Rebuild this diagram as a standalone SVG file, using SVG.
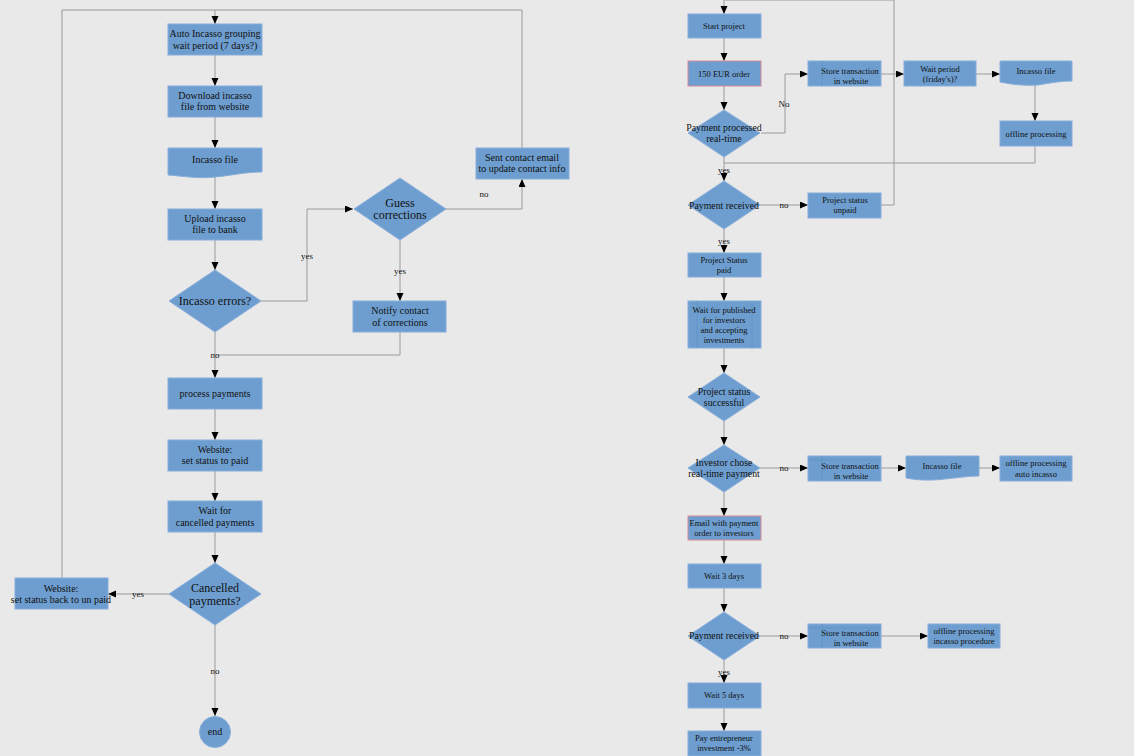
<svg xmlns="http://www.w3.org/2000/svg" width="1134" height="756" viewBox="0 0 1134 756">
<style>
.n{fill:#6d9ecf;stroke:#88aedb;stroke-width:1}
.r{fill:#6d9ecf;stroke:#d88a9a;stroke-width:1}
.t{font-family:"Liberation Serif",serif;font-size:10px;fill:#111;text-anchor:middle}
.s{font-family:"Liberation Serif",serif;font-size:8.5px;fill:#111;text-anchor:middle}
.d{font-family:"Liberation Serif",serif;font-size:12px;fill:#111;text-anchor:middle}
.ds{font-family:"Liberation Serif",serif;font-size:9.8px;fill:#111;text-anchor:middle}
.l{font-family:"Liberation Serif",serif;font-size:9px;fill:#111;text-anchor:middle}
.e{fill:none;stroke:#9a9a9a;stroke-width:1}
.a{marker-end:url(#ah)}
.in{stroke:#5d8ec0;stroke-width:0.6;fill:none}
</style>
<defs>
<marker id="ah" markerUnits="userSpaceOnUse" markerWidth="8" markerHeight="8" refX="8" refY="3.5" orient="auto"><path d="M0,0 L8,3.5 L0,7 z" fill="#000"/></marker>
</defs>
<rect width="1134" height="756" fill="#e9e9e9"/>
<g id="connectors">
<path class="e" d="M62,578 V10 H522 V148"/>
<path class="e a" d="M215,10 V24"/>
<path class="e a" d="M215,55 V86"/>
<path class="e a" d="M215,117 V148"/>
<path class="e a" d="M215,176 V209"/>
<path class="e a" d="M215,240 V270"/>
<path class="e a" d="M261,301 H307 V209 H353"/>
<path class="e a" d="M446,209 H522 V179"/>
<path class="e a" d="M400,239 V301"/>
<path class="e" d="M400,332 V355 H215"/>
<path class="e a" d="M215,332 V378"/>
<path class="e a" d="M215,409 V440"/>
<path class="e a" d="M215,471 V501"/>
<path class="e a" d="M215,532 V563"/>
<path class="e a" d="M169,594 H108"/>
<path class="e a" d="M215,624 V716"/>
<path class="e a" d="M724,0 V14"/>
<path class="e" d="M724,0 H894 V205 H881"/>
<path class="e a" d="M724,38 V61"/>
<path class="e a" d="M724,86 V110"/>
<path class="e a" d="M761,133 H785 V74 H808"/>
<path class="e a" d="M881,74 H904"/>
<path class="e a" d="M976,74 H1000"/>
<path class="e a" d="M1035,84 V121"/>
<path class="e" d="M1035,146 V163 H724"/>
<path class="e a" d="M724,157 V181"/>
<path class="e a" d="M760,205 H808"/>
<path class="e a" d="M724,229 V253"/>
<path class="e a" d="M724,277 V301"/>
<path class="e a" d="M724,348 V373"/>
<path class="e a" d="M724,421 V445"/>
<path class="e a" d="M760,468 H808"/>
<path class="e a" d="M881,468 H906"/>
<path class="e a" d="M979,468 H1000"/>
<path class="e a" d="M724,492 V516"/>
<path class="e a" d="M724,540 V564"/>
<path class="e a" d="M724,588 V612"/>
<path class="e a" d="M760,636 H808"/>
<path class="e a" d="M881,636 H928"/>
<path class="e a" d="M724,660 V683"/>
<path class="e a" d="M724,708 V731"/>
<text class="l" x="307" y="259">yes</text>
<text class="l" x="484" y="197">no</text>
<text class="l" x="400" y="274">yes</text>
<text class="l" x="215" y="358">no</text>
<text class="l" x="138" y="597">yes</text>
<text class="l" x="215" y="674">no</text>
<text class="l" x="784" y="107">No</text>
<text class="l" x="724" y="173">yes</text>
<text class="l" x="784" y="208">no</text>
<text class="l" x="724" y="244">yes</text>
<text class="l" x="784" y="471">no</text>
<text class="l" x="784" y="639">no</text>
<text class="l" x="724" y="675">yes</text>
</g>
<g id="auto-incasso"><rect class="n" x="168" y="24" width="94" height="31"/><text class="t" x="215" y="37">Auto Incasso grouping</text><text class="t" x="215" y="49">wait period (7 days?)</text></g>
<g id="download"><rect class="n" x="168" y="86" width="94" height="31"/><text class="t" x="215" y="99">Download incasso</text><text class="t" x="215" y="110">file from website</text></g>
<g id="incasso-file-l"><path class="n" d="M168,148 H262 V172 C245,172 235,175 215,177 C198,179 182,176 168,175 Z"/><text class="t" x="215" y="163">Incasso file</text></g>
<g id="upload"><rect class="n" x="168" y="209" width="94" height="31"/><text class="t" x="215" y="222">Upload incasso</text><text class="t" x="215" y="233">file to bank</text></g>
<g id="incasso-errors"><path class="n" d="M215,270 L261,301 L215,332 L169,301 Z"/><text class="d" x="215" y="305">Incasso errors?</text></g>
<g id="guess"><path class="n" d="M400,178 L446,209 L400,240 L354,209 Z"/><text class="d" x="400" y="207">Guess</text><text class="d" x="400" y="219">corrections</text></g>
<g id="sent-email"><rect class="n" x="476" y="148" width="93" height="31"/><text class="t" x="522" y="161">Sent contact email</text><text class="t" x="522" y="172">to update contact info</text></g>
<g id="notify"><rect class="n" x="353" y="301" width="93" height="31"/><text class="t" x="400" y="314">Notify contact</text><text class="t" x="400" y="326">of corrections</text></g>
<g id="process"><rect class="n" x="168" y="378" width="94" height="31"/><text class="t" x="215" y="397">process payments</text></g>
<g id="set-paid"><rect class="n" x="168" y="440" width="94" height="31"/><text class="t" x="215" y="453">Website:</text><text class="t" x="215" y="464">set status to paid</text></g>
<g id="wait-cancel"><rect class="n" x="168" y="501" width="94" height="31"/><text class="t" x="215" y="514">Wait for</text><text class="t" x="215" y="526">cancelled payments</text></g>
<g id="cancelled"><path class="n" d="M215,563 L261,594 L215,625 L169,594 Z"/><text class="d" x="215" y="592">Cancelled</text><text class="d" x="215" y="605">payments?</text></g>
<g id="set-unpaid"><rect class="n" x="15" y="578" width="93" height="31"/><text class="t" x="61" y="592">Website:</text><text class="t" x="61" y="603">set status back to un paid</text></g>
<g id="end"><circle class="n" cx="215" cy="732" r="15.5"/><text class="t" x="215" y="735">end</text></g>
<g id="start"><rect class="n" x="688" y="14" width="73" height="24"/><text class="s" x="724" y="29">Start project</text></g>
<g id="order"><rect class="r" x="688" y="61" width="73" height="25"/><text class="s" x="724" y="77">150 EUR order</text></g>
<g id="processed"><path class="n" d="M724,110 L760,133 L724,157 L688,133 Z"/><text class="ds" x="724" y="131">Payment processed</text><text class="ds" x="724" y="142">real-time</text></g>
<g id="store1"><rect class="n" x="808" y="61" width="73" height="25"/><path class="in" d="M822,61 V86"/><text class="s" x="850" y="74">Store transaction</text><text class="s" x="851" y="84">in website</text></g>
<g id="wait-friday"><rect class="n" x="904" y="61" width="72" height="25"/><text class="s" x="940" y="72">Wait period</text><text class="s" x="940" y="82">(friday's)?</text></g>
<g id="incasso-file-r1"><path class="n" d="M1000,61 H1072 V81 C1060,81 1050,83 1038,85 C1022,86 1010,84 1000,82 Z"/><text class="s" x="1036" y="74">Incasso file</text></g>
<g id="offline1"><rect class="n" x="1000" y="121" width="72" height="25"/><text class="s" x="1036" y="137">offline processing</text></g>
<g id="received1"><path class="n" d="M724,181 L760,205 L724,229 L688,205 Z"/><text class="ds" x="724" y="209">Payment received</text></g>
<g id="unpaid"><rect class="n" x="808" y="193" width="73" height="25"/><text class="s" x="845" y="203">Project status</text><text class="s" x="845" y="213">unpaid</text></g>
<g id="paid"><rect class="n" x="688" y="253" width="73" height="24"/><text class="s" x="724" y="263">Project Status</text><text class="s" x="724" y="273">paid</text></g>
<g id="wait-published"><rect class="n" x="688" y="301" width="73" height="47"/><path class="in" d="M697,301 V348 M752,301 V348"/><text class="s" x="724" y="313">Wait for published</text><text class="s" x="724" y="323">for investors</text><text class="s" x="724" y="333">and accepting</text><text class="s" x="724" y="343">investments</text></g>
<g id="successful"><path class="n" d="M724,373 L760,397 L724,421 L688,397 Z"/><text class="ds" x="724" y="395">Project status</text><text class="ds" x="724" y="406">successful</text></g>
<g id="investor-chose"><path class="n" d="M724,445 L760,468 L724,492 L688,468 Z"/><text class="ds" x="724" y="466">Investor chose</text><text class="ds" x="724" y="477">real-time payment</text></g>
<g id="store2"><rect class="n" x="808" y="456" width="73" height="25"/><path class="in" d="M822,456 V481 M808,460 H881"/><text class="s" x="850" y="469">Store transaction</text><text class="s" x="851" y="479">in website</text></g>
<g id="incasso-file-r2"><path class="n" d="M906,456 H979 V476 C967,476 957,478 945,479 C929,481 916,480 906,478 Z"/><text class="s" x="942" y="469">Incasso file</text></g>
<g id="offline2"><rect class="n" x="1000" y="456" width="72" height="25"/><text class="s" x="1036" y="466">offline processing</text><text class="s" x="1036" y="477">auto incasso</text></g>
<g id="email"><rect class="r" x="688" y="516" width="73" height="24"/><text class="s" x="724" y="526">Email with payment</text><text class="s" x="724" y="536">order to investors</text></g>
<g id="wait3"><rect class="n" x="688" y="564" width="73" height="24"/><text class="s" x="724" y="579">Wait 3 days</text></g>
<g id="received2"><path class="n" d="M724,612 L760,636 L724,660 L688,636 Z"/><text class="ds" x="724" y="639">Payment received</text></g>
<g id="store3"><rect class="n" x="808" y="624" width="73" height="24"/><path class="in" d="M822,624 V648 M808,628 H881"/><text class="s" x="850" y="636">Store transaction</text><text class="s" x="851" y="646">in website</text></g>
<g id="offline3"><rect class="n" x="928" y="624" width="72" height="24"/><text class="s" x="964" y="634">offline processing</text><text class="s" x="964" y="644">incasso procedure</text></g>
<g id="wait5"><rect class="n" x="688" y="683" width="73" height="25"/><text class="s" x="724" y="698">Wait 5 days</text></g>
<g id="pay"><rect class="n" x="688" y="731" width="73" height="25"/><text class="s" x="724" y="741">Pay entrepreneur</text><text class="s" x="724" y="751">investment -3%</text></g>
</svg>
